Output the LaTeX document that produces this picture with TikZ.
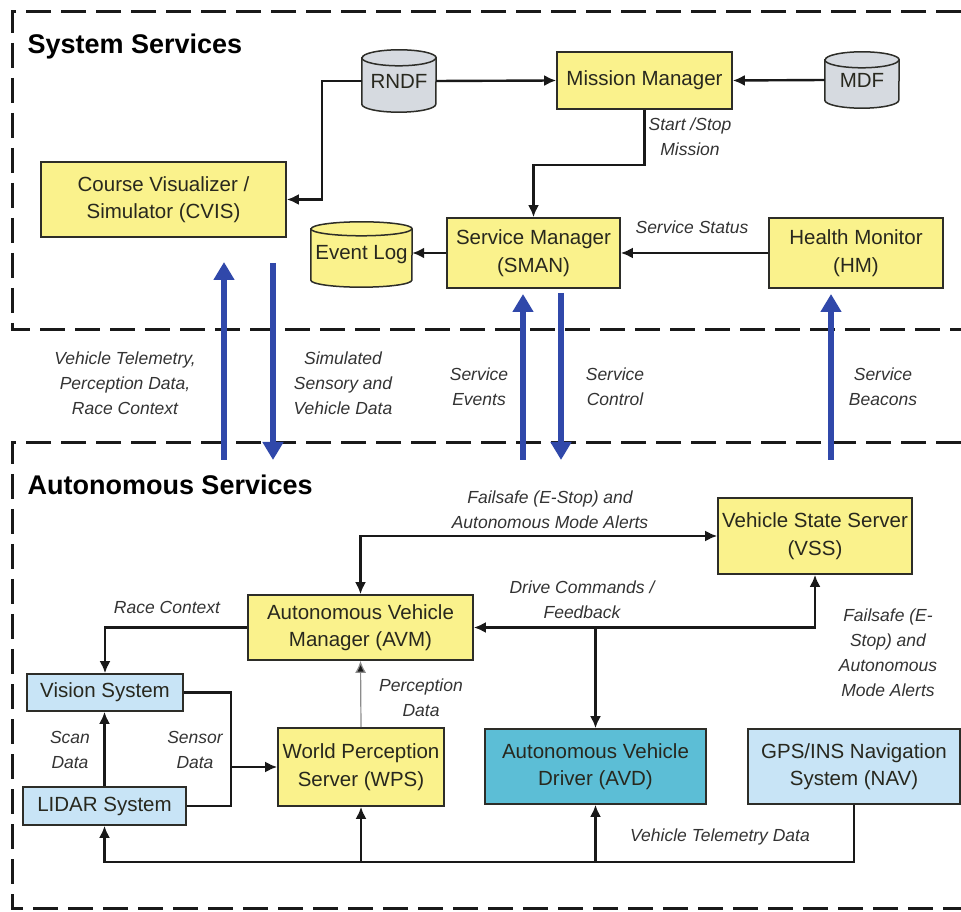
\documentclass[tikz,border=0pt]{standalone}
\usepackage{fontspec}
\setmainfont{Liberation Sans}
\usetikzlibrary{arrows.meta,calc,backgrounds}

\definecolor{boxyellow}{RGB}{250,242,140}
\definecolor{cylgray}{RGB}{214,218,224}
\definecolor{lightblue}{RGB}{200,228,246}
\definecolor{avdblue}{RGB}{92,190,214}
\definecolor{flowblue}{RGB}{48,72,170}
\definecolor{boxtext}{RGB}{40,40,30}
\definecolor{edge}{RGB}{45,45,40}

\newcommand\drawcyl[4]{%
  \draw[edge, line width=1.5pt, fill=#2]
    ($(#1.north west)+(0,-#4)$) -- ($(#1.south west)+(0,#4)$)
    arc[start angle=180,end angle=360,x radius=#3,y radius=#4]
    -- ($(#1.north east)+(0,-#4)$)
    arc[start angle=0,end angle=180,x radius=#3,y radius=#4] -- cycle;
  \draw[edge, line width=1.5pt]
    ($(#1.north west)+(0,-#4)$)
    arc[start angle=180,end angle=360,x radius=#3,y radius=#4];
}

\tikzset{
  box/.style={draw=edge, line width=1.6pt, fill=boxyellow, align=center,
    font=\fontsize{20.5}{27.5}\selectfont, text=boxtext, inner sep=0pt},
  cyltext/.style={draw=none, align=center,
    font=\fontsize{20.5}{27.5}\selectfont, text=boxtext, inner sep=0pt},
  lbl/.style={font=\fontsize{17.5}{25}\selectfont\itshape, align=center, text=black!80},
  title/.style={font=\fontsize{27}{32}\selectfont\bfseries, anchor=west, text=black},
  wire/.style={line width=2.4pt, draw=black!90},
  conn/.style={wire, -{Latex[length=12pt,width=11pt]}},
  biconn/.style={wire, {Latex[length=12pt,width=11pt]}-{Latex[length=12pt,width=11pt]}},
  thinconn/.style={line width=1.2pt, draw=black!45, -{Latex[length=12pt,width=11pt,fill=black!90]}},
  flow/.style={line width=5.5pt, draw=flowblue, -{Triangle[length=18pt,width=20pt]}},
  frame/.style={line width=3pt, draw=black!90, dash pattern=on 25pt off 10pt}
}

\begin{document}
\begin{tikzpicture}[x=1pt,y=1pt]
\useasboundingbox (0,0) rectangle (961,911);

% frames
\draw[frame] (961,899) -- (12,899) -- (12,581) -- (961,581);
\draw[frame] (961,468) -- (12,468) -- (12,3) -- (961,3);

\node[title] (systitle) at (24,864) {System Services};
\node[title] (autotitle) at (24,426) {Autonomous Services};

% system services nodes
\node[cyltext, minimum width=74pt, minimum height=62pt] (rndf) at (399,830) {\raisebox{-3pt}{RNDF}};
\node[box, minimum width=175pt, minimum height=57pt] (mm) at (644.5,830.5) {Mission Manager};
\node[cyltext, minimum width=74pt, minimum height=56pt] (mdf) at (862,831) {\raisebox{-3pt}{MDF}};
\node[box, minimum width=245pt, minimum height=75pt] (cvis) at (163.5,711.5) {Course Visualizer /\\Simulator (CVIS)};
\node[cyltext, minimum width=101pt, minimum height=65pt] (evlog) at (361.5,656.5) {\raisebox{-7pt}{Event Log}};
\node[box, minimum width=173pt, minimum height=70pt] (sman) at (533.5,658) {Service Manager\\(SMAN)};
\node[box, minimum width=174pt, minimum height=70pt] (hm) at (856,658) {Health Monitor\\(HM)};

\begin{scope}[on background layer]
  \drawcyl{rndf}{cylgray}{37pt}{8pt}
  \drawcyl{mdf}{cylgray}{37pt}{8pt}
  \drawcyl{evlog}{boxyellow}{50.5pt}{7pt}
\end{scope}

% autonomous nodes
\node[box, minimum width=194pt, minimum height=76pt] (vss) at (815,375) {Vehicle State Server\\(VSS)};
\node[box, minimum width=225pt, minimum height=65pt] (avm) at (360.5,283.5) {Autonomous Vehicle\\Manager (AVM)};
\node[box, fill=lightblue, minimum width=156pt, minimum height=37pt] (vision) at (105,218.5) {Vision System};
\node[box, fill=lightblue, minimum width=163pt, minimum height=38pt] (lidar) at (104.5,105) {LIDAR System};
\node[box, minimum width=166pt, minimum height=78pt] (wps) at (361,144) {World Perception\\Server (WPS)};
\node[box, fill=avdblue, minimum width=221pt, minimum height=75pt] (avd) at (595.5,144.5) {Autonomous Vehicle\\Driver (AVD)};
\node[box, fill=lightblue, minimum width=212pt, minimum height=75pt] (nav) at (854,144.5) {GPS/INS Navigation\\System (NAV)};

% system connectors
\draw[conn] (rndf.east) -- (mm.west);
\draw[conn] (mdf.west) -- (mm.east);
\draw[conn] (rndf.west) -- ++(-40,0) |- (cvis.east);
\draw[conn] (mm.south) -- ++(0,-55) -| (sman.north);
\draw[conn] (sman.west) -- (sman.west -| evlog.east);
\draw[conn] (hm.west) -- (sman.east);

\node[lbl] (lstart) at (690,774) {Start /Stop\\Mission};
\node[lbl] (lstatus) at (692,684) {Service Status};

% blue flows
\coordinate (f1a) at (224,451); \coordinate (f1b) at (224,649);
\coordinate (f2a) at (273,648); \coordinate (f2b) at (273,451);
\coordinate (f3a) at (523,451); \coordinate (f3b) at (523,617);
\coordinate (f4a) at (561,618); \coordinate (f4b) at (561,451);
\coordinate (f5a) at (831,451); \coordinate (f5b) at (831,617);
\draw[flow] (f1a) -- (f1b);
\draw[flow] (f2a) -- (f2b);
\draw[flow] (f3a) -- (f3b);
\draw[flow] (f4a) -- (f4b);
\draw[flow] (f5a) -- (f5b);

\node[lbl] (lvt) at (125,528) {Vehicle Telemetry,\\Perception Data,\\Race Context};
\node[lbl] (lsim) at (343,528) {Simulated\\Sensory and\\Vehicle Data};
\node[lbl] (lsev) at (479,524) {Service\\Events};
\node[lbl] (lsctl) at (615,524) {Service\\Control};
\node[lbl] (lsbc) at (883,524) {Service\\Beacons};

% autonomous connectors
\draw[biconn] (avm.north) |- (vss.west);
\draw[biconn] (avm.east) -| (vss.south);
\draw[conn] (avm.east -| avd.north) -- (avd.north);
\draw[conn] (avm.west) -| (vision.north);
\draw[thinconn] (wps.north) -- (avm.south);
\draw[conn] (lidar.north) -- (lidar.north |- vision.south);
\coordinate (sj) at ($(wps.west)+(-46,0)$);
\draw[wire] (vision.east) -| (sj);
\draw[wire] (lidar.east) -| (sj);
\draw[conn] (sj) -- (wps.west);
\coordinate (busR) at (854,49);
\draw[conn] (nav.south) -- (busR) -| (lidar.south);
\draw[conn] (wps.south |- busR) -- (wps.south);
\draw[conn] (avd.south |- busR) -- (avd.south);

\node[lbl] (lfail) at (550,401) {Failsafe (E-Stop) and\\Autonomous Mode Alerts};
\node[lbl] (ldrive) at (582,311) {Drive Commands /\\Feedback};
\node[lbl] (lfail2) at (888,258) {Failsafe (E-\\Stop) and\\Autonomous\\Mode Alerts};
\node[lbl] (lrace) at (167,304) {Race Context};
\node[lbl] (lperc) at (421,213) {Perception\\Data};
\node[lbl] (lscan) at (70,161) {Scan\\Data};
\node[lbl] (lsens) at (195,161) {Sensor\\Data};
\node[lbl] (lvtd) at (720,74) {Vehicle Telemetry Data};
\end{tikzpicture}
\end{document}
